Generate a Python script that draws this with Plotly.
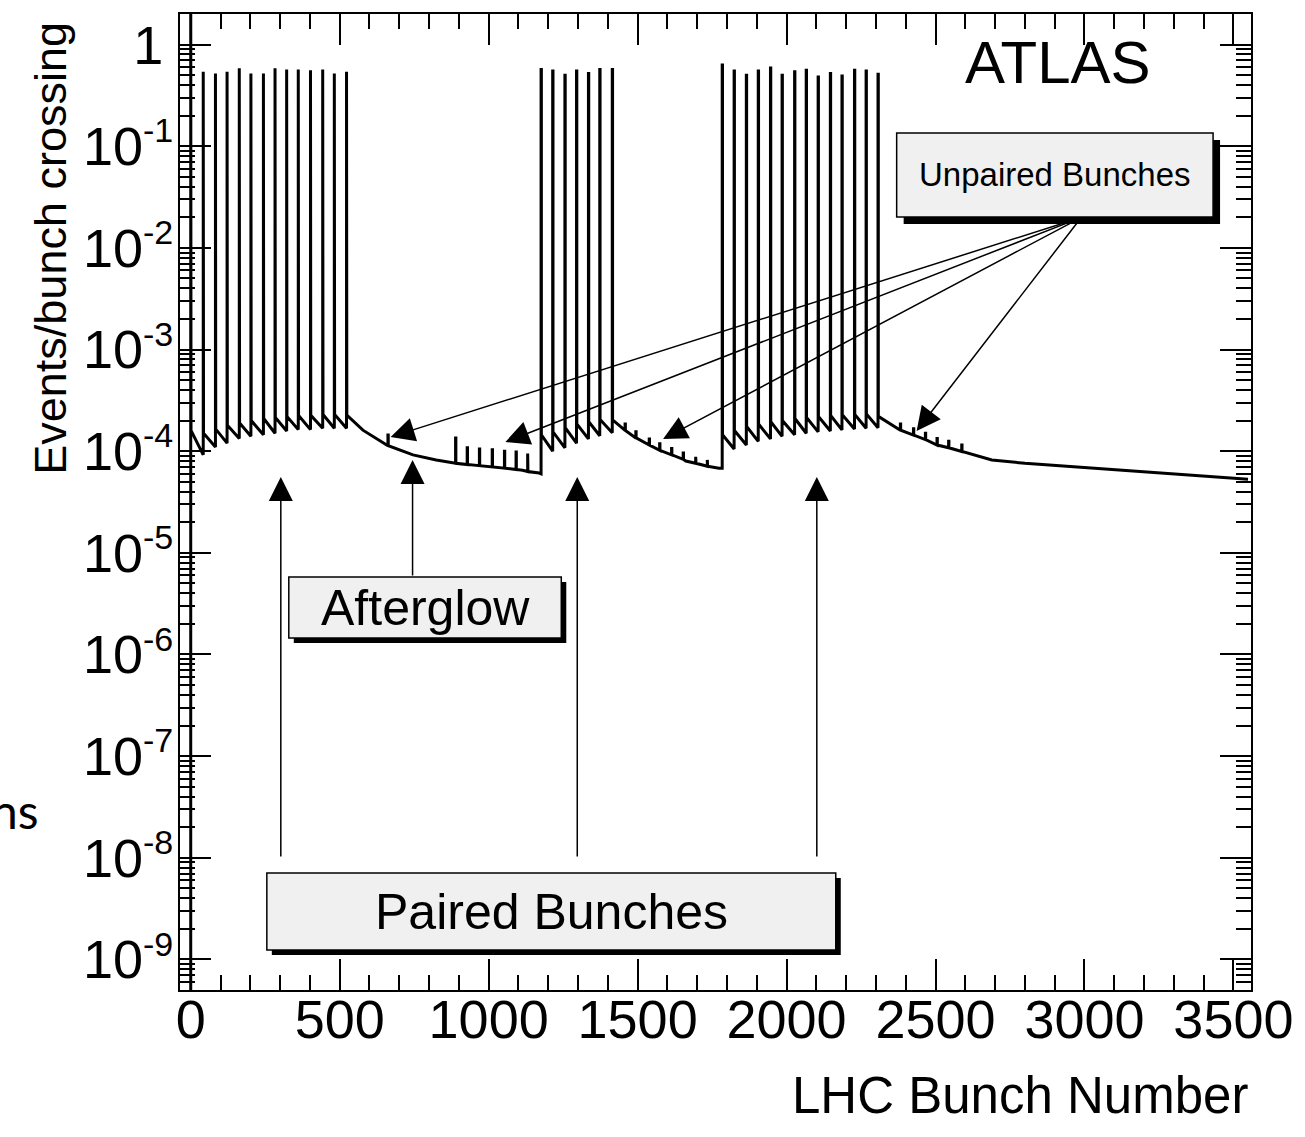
import math
import plotly.graph_objects as go

# ---------------------------------------------------------------
# Events per bunch crossing versus LHC bunch number (BCID)
# ---------------------------------------------------------------

# Bunch 0 sits above the plotted range (drawn clipped at the frame top)
bcid0_rate = 5.0
bcid1_rate = 1.6e-4

# Colliding (paired) bunches: position, peak rate, rate in the bin just
# before the bunch and rate in the bin right after it (afterglow tooth)
paired_bcid = [
    42, 83, 122, 163, 202, 244, 283, 322, 361, 402, 443, 482, 523,
    1176, 1215, 1256, 1295, 1335, 1373, 1415,
    1784, 1824, 1865, 1905, 1946, 1985, 2027, 2066, 2106, 2147, 2186, 2228, 2267, 2307,
]
paired_peak = [
    0.54, 0.52, 0.54, 0.585, 0.52, 0.52, 0.585, 0.57, 0.57, 0.56, 0.57, 0.52, 0.54,
    0.57, 0.55, 0.50, 0.55, 0.52, 0.57, 0.57,
    0.63, 0.55, 0.50, 0.55, 0.59, 0.50, 0.54, 0.56, 0.48, 0.52, 0.49, 0.56, 0.55, 0.51,
]
paired_before = [
    9.2e-5, 1.10e-4, 1.20e-4, 1.33e-4, 1.40e-4, 1.45e-4, 1.50e-4, 1.58e-4, 1.63e-4, 1.63e-4, 1.68e-4, 1.68e-4, 1.68e-4,
    6.0e-5, 1.00e-4, 1.08e-4, 1.20e-4, 1.32e-4, 1.42e-4, 1.52e-4,
    6.8e-5, 1.05e-4, 1.15e-4, 1.25e-4, 1.32e-4, 1.40e-4, 1.45e-4, 1.50e-4, 1.55e-4, 1.58e-4, 1.62e-4, 1.65e-4, 1.68e-4, 1.70e-4,
]
paired_after = [
    1.50e-4, 1.65e-4, 1.80e-4, 1.90e-4, 2.00e-4, 2.10e-4, 2.15e-4, 2.20e-4, 2.25e-4, 2.25e-4, 2.30e-4, 2.30e-4, 2.27e-4,
    1.45e-4, 1.55e-4, 1.70e-4, 1.85e-4, 1.95e-4, 2.05e-4, 2.03e-4,
    1.45e-4, 1.60e-4, 1.75e-4, 1.85e-4, 1.95e-4, 2.00e-4, 2.10e-4, 2.15e-4, 2.20e-4, 2.25e-4, 2.28e-4, 2.30e-4, 2.32e-4, 2.20e-4,
]

# Non-colliding (unpaired) bunches: position, rate in the bunch, afterglow under it
unpaired_bcid = [
    662,
    889, 928, 969, 1012, 1053, 1092, 1131,
    1458, 1494, 1539, 1574, 1614, 1653, 1695, 1734,
    2382, 2426, 2466, 2505, 2544, 2588,
]
unpaired_rate = [
    1.44e-4,
    1.35e-4, 1.08e-4, 1.05e-4, 1.03e-4, 1.0e-4, 9.8e-5, 9.5e-5,
    1.85e-4, 1.55e-4, 1.32e-4, 1.18e-4, 1.06e-4, 9.6e-5, 8.8e-5, 8.2e-5,
    1.85e-4, 1.66e-4, 1.50e-4, 1.33e-4, 1.25e-4, 1.15e-4,
]
unpaired_base = [
    1.13e-4,
    7.6e-5, 7.4e-5, 7.2e-5, 7.0e-5, 6.8e-5, 6.6e-5, 6.3e-5,
    1.60e-4, 1.35e-4, 1.15e-4, 1.02e-4, 9.2e-5, 8.3e-5, 7.6e-5, 7.1e-5,
    1.61e-4, 1.44e-4, 1.30e-4, 1.15e-4, 1.08e-4, 9.95e-5,
]

# Afterglow decay between the trains (empty bunch slots)
glow_bcid = [578, 746, 824, 1003, 1114, 1170,
             1572, 1662, 1773,
             2689, 2800, 3024, 3247, 3549]
glow_rate = [1.61e-4, 9.2e-5, 8.2e-5, 7.0e-5, 6.5e-5, 6.1e-5,
             1.03e-4, 8.0e-5, 6.8e-5,
             8.2e-5, 7.6e-5, 6.8e-5, 6.1e-5, 5.3e-5]

# Axis settings
y_min, y_max = 5e-10, 2.0
x_min, x_max = -36, 3559
y_major = [10.0 ** k for k in range(-9, 1)]
y_major_text = ['10<sup><span style="font-size:34px">-%d</span></sup>' % (-k)
                for k in range(-9, 0)] + ['1<span style="font-size:36px">&nbsp;</span>']
y_minor = [m * 10.0 ** k for k in range(-10, 1) for m in range(2, 10)]

# ---- build the histogram outline ----
events = []
for b, pk, lo, hi in zip(paired_bcid, paired_peak, paired_before, paired_after):
    events.append((b, [(b, lo), (b, pk), (b + 1, pk), (b + 1, hi)]))
for b, top, base in zip(unpaired_bcid, unpaired_rate, unpaired_base):
    events.append((b, [(b, base), (b, top), (b + 1, top), (b + 1, base)]))
for b, r in zip(glow_bcid, glow_rate):
    events.append((b, [(b, r)]))
events.sort(key=lambda e: e[0])

xs = [0, 0, 1, 1]
ys = [y_min, bcid0_rate, bcid0_rate, bcid1_rate]
for _, seg in events:
    for x, y in seg:
        xs.append(x)
        ys.append(y)

fig = go.Figure()
fig.add_trace(go.Scatter(
    x=xs, y=ys, mode="lines",
    line=dict(color="black", width=3),
    hoverinfo="skip", showlegend=False,
))

# ---- layout ----
FONT = "Liberation Sans, Arial, Helvetica, sans-serif"
W, H = 1305, 1137
L, R, T, B = 180, 1253, 14, 990


def fx(px):
    return (px - L) / (R - L)


def fy(py):
    return (B - py) / (B - T)


fig.update_layout(
    width=W, height=H,
    margin=dict(l=L, r=W - R, t=T, b=H - B),
    paper_bgcolor="white", plot_bgcolor="white",
    font=dict(family=FONT, color="black"),
    showlegend=False,
)
fig.update_xaxes(
    range=[x_min, x_max],
    tickmode="linear", tick0=0, dtick=500,
    ticks="inside", ticklen=31, tickwidth=1.5, tickcolor="black",
    minor=dict(dtick=100, tick0=0, ticks="inside", ticklen=15, tickwidth=1.5, tickcolor="black"),
    showline=True, linewidth=2, linecolor="black", mirror="ticks",
    showgrid=False, zeroline=False,
    tickfont=dict(size=54, family=FONT, color="black"),
    ticklabelstandoff=-19,
)
fig.update_yaxes(
    type="log",
    range=[math.log10(y_min), math.log10(y_max)],
    tickmode="array", tickvals=y_major, ticktext=y_major_text,
    ticks="inside", ticklen=31, tickwidth=1.5, tickcolor="black",
    minor=dict(tickmode="array", tickvals=y_minor, ticks="inside", ticklen=15,
               tickwidth=1.5, tickcolor="black"),
    showline=True, linewidth=2, linecolor="black", mirror="ticks",
    showgrid=False, zeroline=False,
    tickfont=dict(size=54, family=FONT, color="black"),
    ticklabelstandoff=-6,
)

annotations = []
shapes = []

# axis titles
annotations.append(dict(
    text="Events/bunch crossing", xref="paper", yref="paper",
    x=fx(50), y=fy(20), xanchor="center", yanchor="top",
    textangle=-90, showarrow=False, font=dict(size=45, family=FONT),
))
annotations.append(dict(
    text="LHC Bunch Number", xref="paper", yref="paper",
    x=fx(1252), y=fy(1095), xanchor="right", yanchor="middle",
    showarrow=False, font=dict(size=51, family=FONT),
))
annotations.append(dict(
    text="ns", xref="paper", yref="paper",
    x=fx(41), y=fy(810), xanchor="right", yanchor="middle",
    showarrow=False, font=dict(size=48, family="Lato, Open Sans, sans-serif"),
))
annotations.append(dict(
    text="ATLAS", xref="paper", yref="paper",
    x=fx(1060), y=fy(62), xanchor="center", yanchor="middle",
    showarrow=False, font=dict(size=60, family=FONT),
))


def label_box(x0, y0, x1, y1, text, size, shadow):
    shapes.append(dict(type="rect", xref="paper", yref="paper",
                       x0=fx(x0 + shadow), x1=fx(x1 + shadow),
                       y0=fy(y0 + shadow), y1=fy(y1 + shadow),
                       fillcolor="black", line=dict(width=0), layer="above"))
    shapes.append(dict(type="rect", xref="paper", yref="paper",
                       x0=fx(x0), x1=fx(x1), y0=fy(y0), y1=fy(y1),
                       fillcolor="#f0f0f0", line=dict(color="black", width=1.5),
                       layer="above"))
    annotations.append(dict(text=text, xref="paper", yref="paper",
                            x=fx((x0 + x1) / 2), y=fy((y0 + y1) / 2),
                            xanchor="center", yanchor="middle", showarrow=False,
                            font=dict(size=size, family=FONT)))


label_box(898, 133, 1215, 217, "Unpaired Bunches", 33, 7)
label_box(289, 577, 562, 638, "Afterglow", 50, 5)
label_box(267, 873, 837, 950, "Paired Bunches", 50, 5)


def arrow(tip, tail):
    annotations.append(dict(
        text="", xref="paper", yref="paper",
        x=fx(tip[0]), y=fy(tip[1]),
        ax=tail[0] - tip[0], ay=tail[1] - tip[1],
        showarrow=True, arrowhead=2, arrowsize=3.2, arrowwidth=1.5,
        arrowcolor="black", standoff=0,
    ))


for tx in (281, 578, 818):
    arrow((tx, 477), (tx, 858))
arrow((413, 460), (413, 577))
for tip in ((391, 437), (506, 442), (664, 439), (918, 431)):
    arrow(tip, (1083, 217))

fig.update_layout(annotations=annotations, shapes=shapes)

fig.write_html("out.html")
